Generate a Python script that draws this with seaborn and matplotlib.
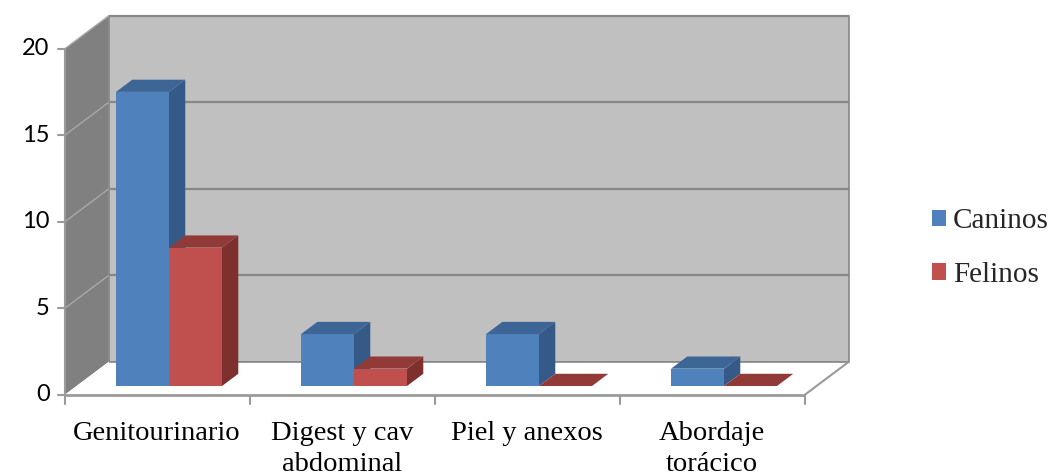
import numpy as np
import pandas as pd
import matplotlib
matplotlib.use("Agg")
import matplotlib.pyplot as plt
from matplotlib.patches import Polygon, Patch
from matplotlib.lines import Line2D
import seaborn as sns

# ---- data ----
categories = ["Genitourinario", "Digest y cav\nabdominal", "Piel y anexos", "Abordaje\ntorácico"]
caninos = [17, 3, 3, 1]
felinos = [8, 1, 0, 0]
series_names = ["Caninos", "Felinos"]
y_ticks = [0, 5, 10, 15, 20]

df = pd.DataFrame({
    "cat": categories * 2,
    "value": caninos + felinos,
    "species": [series_names[0]] * len(categories) + [series_names[1]] * len(categories),
})

# ---- styling ----
FRONT = {"Caninos": "#4f81bd", "Felinos": "#c0504d"}
SIDE = {"Caninos": "#355a87", "Felinos": "#7d302e"}
TOP = {"Caninos": "#3d6697", "Felinos": "#913a38"}
BACK_WALL = "#c0c0c0"
LEFT_WALL = "#808080"
GRID = "#878787"
AXIS_GRAY = "#9a9a9a"

sns.set_theme(style="white")
plt.rcParams["font.family"] = ["DejaVu Sans"]

W, H = 1053, 474
fig = plt.figure(figsize=(W / 100, H / 100), dpi=100)
fig.patch.set_facecolor("white")

# axes = plane of the bar front faces
ax = fig.add_axes([76.5 / W, (H - 386) / H, 740 / W, 346 / H])
sns.barplot(data=df, x="cat", y="value", hue="species", order=categories,
            hue_order=series_names, palette=[FRONT[s] for s in series_names],
            width=0.573, saturation=1, linewidth=0, legend=False, ax=ax)
ax.set_xlim(-0.5, len(categories) - 0.5)
ax.set_ylim(y_ticks[0], y_ticks[-1])
ax.axis("off")

# depth direction of the 3-D box, in pixels
DEPTH = np.array([44.0, 33.0])
Z_FRONT, Z_BACK, BAR_DEPTH = -0.27, 0.73, 0.37
o = ax.transData.transform((0, 0))
px_x = ax.transData.transform((1, 0))[0] - o[0]
px_y = ax.transData.transform((0, 1))[1] - o[1]


def P(x, y, z):
    return (x + z * DEPTH[0] / px_x, y + z * DEPTH[1] / px_y)


def poly(pts, fc, z, ec="none", lw=0):
    ax.add_patch(Polygon(pts, closed=True, facecolor=fc, edgecolor=ec,
                         linewidth=lw, zorder=z, clip_on=False))


def line(p, q, color, lw, z):
    ax.add_line(Line2D([p[0], q[0]], [p[1], q[1]], color=color, lw=lw,
                       zorder=z, clip_on=False, solid_capstyle="butt"))


x0, x1 = -0.5, len(categories) - 0.5
y0, y1 = y_ticks[0], y_ticks[-1]

# walls and floor
poly([P(x0, y0, Z_BACK), P(x1, y0, Z_BACK), P(x1, y1, Z_BACK), P(x0, y1, Z_BACK)],
     BACK_WALL, 0.2, ec=GRID, lw=1.2)
poly([P(x0, y0, Z_FRONT), P(x0, y0, Z_BACK), P(x0, y1, Z_BACK), P(x0, y1, Z_FRONT)],
     LEFT_WALL, 0.3)
poly([P(x0, y0, Z_FRONT), P(x1, y0, Z_FRONT), P(x1, y0, Z_BACK), P(x0, y0, Z_BACK)],
     "white", 0.4)

for v in y_ticks[1:]:
    line(P(x0, v, Z_BACK), P(x1, v, Z_BACK), GRID, 1.6, 0.5)
    line(P(x0, v, Z_FRONT), P(x0, v, Z_BACK), "#a8a8a8", 1.0, 0.5)
line(P(x0, y0, Z_BACK), P(x1, y0, Z_BACK), GRID, 1.2, 0.5)

# value axis on the front edge of the left wall
line(P(x0, y0, Z_FRONT), P(x0, y1, Z_FRONT), AXIS_GRAY, 1.5, 1)
for v in y_ticks:
    p = P(x0, v, Z_FRONT)
    ax.add_line(Line2D([p[0] - 7 / px_x, p[0]], [p[1], p[1]], color=AXIS_GRAY,
                       lw=1.5, clip_on=False, zorder=1))
    ax.annotate(str(v), xy=p, xytext=(-15, 0), textcoords="offset pixels",
                ha="right", va="center", fontsize=17, family=["Lato", "DejaVu Sans"],
                color="black", annotation_clip=False)

# floor edges and category axis
line(P(x0, y0, Z_FRONT), P(x1, y0, Z_FRONT), AXIS_GRAY, 2.0, 1)
line(P(x1, y0, Z_FRONT), P(x1, y0, Z_BACK), AXIS_GRAY, 1.5, 1)
for b in np.arange(x0, x1 + 0.01, 1.0):
    p = P(b, y0, Z_FRONT)
    ax.add_line(Line2D([p[0], p[0]], [p[1], p[1] - 9 / px_y], color=AXIS_GRAY,
                       lw=1.5, clip_on=False, zorder=1))
for i, cat in enumerate(categories):
    ax.annotate(cat, xy=P(i, y0, Z_FRONT), xytext=(0, -26), textcoords="offset pixels",
                ha="center", va="top", fontsize=20.5, linespacing=1.3,
                family=["Liberation Serif", "DejaVu Serif"], color="black",
                annotation_clip=False)

# extrude the bars: right side and top faces
for h, (name, cont) in enumerate(zip(series_names, ax.containers)):
    base_z = 3 + h
    for bar in cont:
        bx, bw, bh = bar.get_x(), bar.get_width(), bar.get_height()
        bar.set_zorder(base_z)
        poly([P(bx + bw, 0, 0), P(bx + bw, 0, BAR_DEPTH), P(bx + bw, bh, BAR_DEPTH),
              P(bx + bw, bh, 0)], SIDE[name], base_z + 0.1)
        poly([P(bx, bh, 0), P(bx + bw, bh, 0), P(bx + bw, bh, BAR_DEPTH),
              P(bx, bh, BAR_DEPTH)], TOP[name], base_z + 0.2)

# legend
handles = [Patch(facecolor=FRONT[s], edgecolor="none", label=s) for s in series_names]
fig.legend(handles=handles, loc="center left", bbox_to_anchor=(917 / W, (H - 248) / H),
           frameon=False, borderpad=0, handlelength=0.48, handleheight=0.48,
           handletextpad=0.25, labelspacing=0.95,
           prop={"family": ["Liberation Serif"], "size": 21})

fig.savefig("out.png", dpi=100, facecolor="white")
